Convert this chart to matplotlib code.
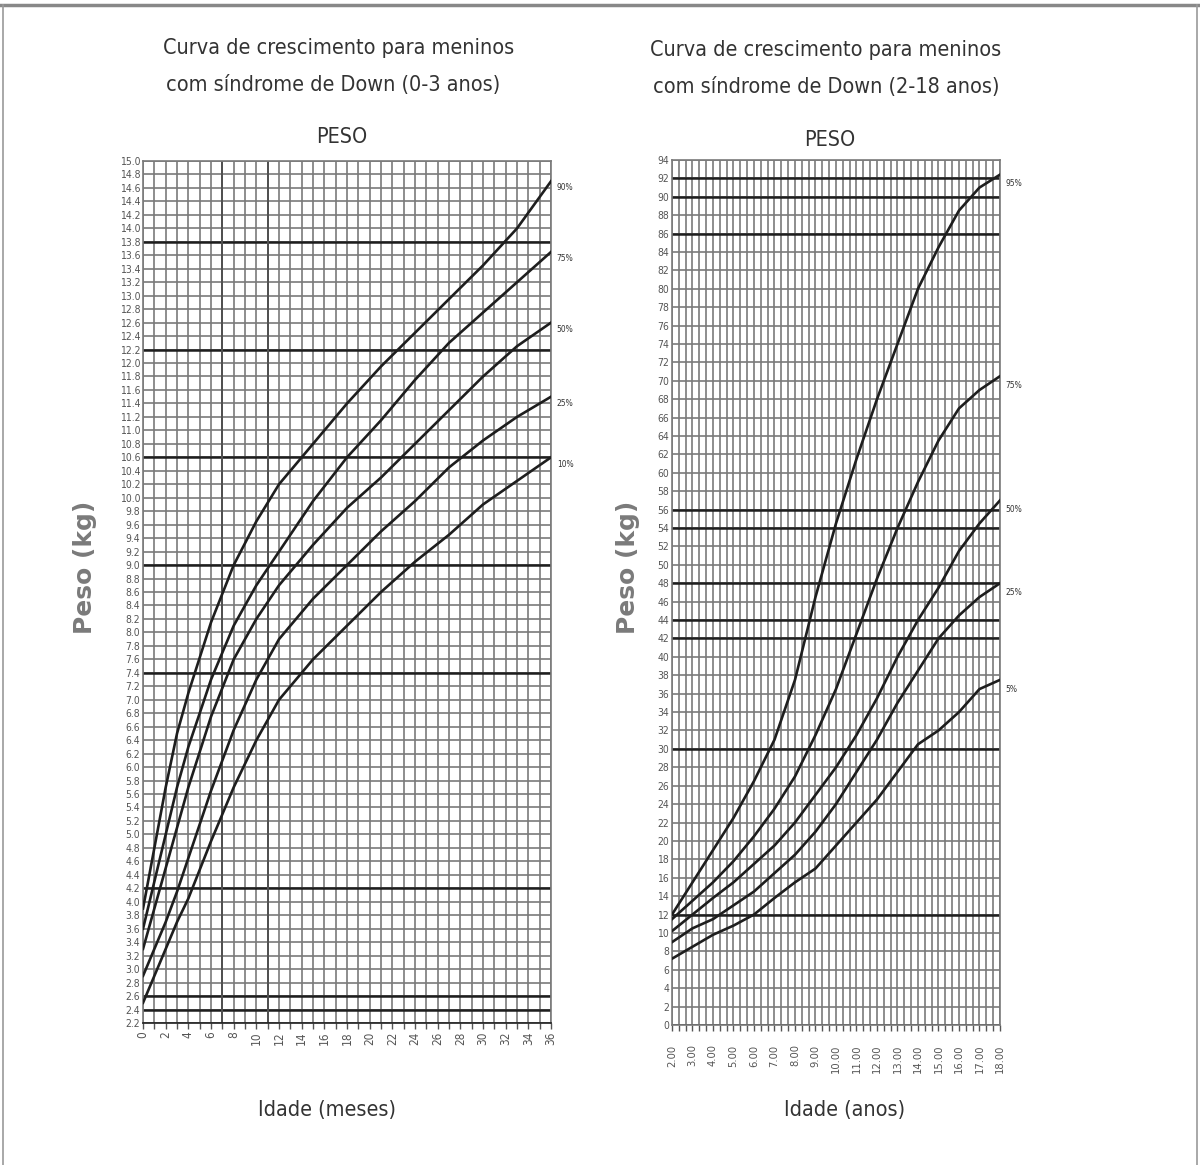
import numpy as np
import matplotlib.pyplot as plt
from matplotlib.lines import Line2D

plt.rcParams['font.family'] = ['DejaVu Sans']
plt.rcParams['font.stretch'] = 'condensed'

# Peso (kg) por idade em meses, 0-3 anos
meses = [0, 1, 2, 3, 4, 6, 8, 10, 12, 15, 18, 21, 24, 27, 30, 33, 36]
p90_meses = [3.9, 4.8, 5.7, 6.5, 7.1, 8.15, 9.0, 9.65, 10.2, 10.8, 11.4, 11.95, 12.45, 12.95, 13.45, 14.0, 14.7]
p75_meses = [3.6, 4.3, 5.0, 5.7, 6.3, 7.3, 8.1, 8.7, 9.2, 9.95, 10.6, 11.15, 11.75, 12.3, 12.75, 13.2, 13.65]
p50_meses = [3.3, 3.9, 4.5, 5.1, 5.7, 6.75, 7.6, 8.2, 8.7, 9.3, 9.85, 10.3, 10.8, 11.3, 11.8, 12.25, 12.6]
p25_meses = [2.9, 3.3, 3.7, 4.15, 4.65, 5.65, 6.55, 7.3, 7.9, 8.5, 9.0, 9.5, 9.95, 10.45, 10.85, 11.2, 11.5]
p10_meses = [2.5, 2.9, 3.3, 3.7, 4.05, 4.9, 5.7, 6.4, 7.0, 7.6, 8.1, 8.6, 9.05, 9.45, 9.9, 10.25, 10.6]
curvas_meses = [('90%', p90_meses), ('75%', p75_meses), ('50%', p50_meses),
                ('25%', p25_meses), ('10%', p10_meses)]

# Peso (kg) por idade em anos, 2-18 anos
anos = [2, 3, 4, 5, 6, 7, 8, 9, 10, 11, 12, 13, 14, 15, 16, 17, 18]
p95_anos = [12.0, 15.5, 19.0, 22.5, 26.5, 31.0, 37.5, 46.5, 54.5, 61.5, 68.0, 74.0, 80.0, 84.5, 88.5, 91.0, 92.4]
p75_anos = [11.5, 13.5, 15.5, 17.8, 20.5, 23.5, 27.0, 31.5, 36.5, 42.5, 48.5, 54.0, 59.0, 63.5, 67.0, 69.0, 70.5]
p50_anos = [10.2, 12.0, 13.8, 15.5, 17.5, 19.5, 22.0, 25.0, 28.0, 31.5, 35.5, 40.0, 44.0, 47.5, 51.5, 54.5, 57.0]
p25_anos = [9.0, 10.5, 11.5, 13.0, 14.5, 16.5, 18.5, 21.0, 24.0, 27.5, 31.0, 35.0, 38.5, 42.0, 44.5, 46.5, 48.0]
p5_anos = [7.2, 8.5, 9.8, 10.8, 12.0, 13.8, 15.5, 17.0, 19.5, 22.0, 24.5, 27.5, 30.5, 32.0, 34.0, 36.5, 37.5]
curvas_anos = [('95%', p95_anos), ('75%', p75_anos), ('50%', p50_anos),
               ('25%', p25_anos), ('5%', p5_anos)]

# linhas de destaque da grade
destaque_meses_y = [2.4, 2.6, 4.2, 7.4, 9.0, 10.6, 12.2, 13.8]
destaque_meses_x = [7, 11]
destaque_anos_y = [0, 12, 30, 42, 44, 48, 54, 56, 86, 90, 92]

GRID = '#7a7a7a'
DARK = '#1e1e1e'
TXT = '#333333'

fig = plt.figure(figsize=(12, 11.65), dpi=100)
ax1 = fig.add_axes([0.1192, 0.1219, 0.34, 0.7399])
ax2 = fig.add_axes([0.56, 0.1202, 0.2733, 0.7425])


def grade(ax):
    ax.grid(True, which='both', color=GRID, lw=1.2)
    ax.set_axisbelow(True)
    for s in ax.spines.values():
        s.set_color(GRID)
        s.set_linewidth(1.2)
    ax.tick_params(which='both', length=4, width=1, color='#555555',
                   labelcolor='#555555', pad=2)
    ax.tick_params(axis='y', length=0)


# ---- 0 a 3 anos ----
ax1.set_xlim(0, 36)
ax1.set_ylim(2.2, 15.0)
yt = np.round(np.arange(2.2, 15.01, 0.2), 1)
ax1.set_yticks(yt)
ax1.set_yticklabels([f'{v:.1f}' for v in yt], fontsize=7.5)
ax1.set_xticks(range(0, 37, 2))
ax1.set_xticks(range(0, 37), minor=True)
ax1.set_xticklabels([str(v) for v in range(0, 37, 2)], fontsize=8.5, rotation=90)
grade(ax1)
for v in destaque_meses_y:
    ax1.axhline(v, color=DARK, lw=1.8, zorder=1.5)
for v in destaque_meses_x:
    ax1.axvline(v, color='#505050', lw=1.4, zorder=1.5)
ax1.spines['bottom'].set_color(DARK)
for nome, serie in curvas_meses:
    ax1.plot(meses, serie, color=DARK, lw=1.9, zorder=3)
    ax1.text(36.5, serie[-1] - 0.1, nome, fontsize=6, color=TXT,
             va='center', ha='left', clip_on=False)

# ---- 2 a 18 anos ----
ax2.set_xlim(2, 18)
ax2.set_ylim(0, 94)
ax2.set_yticks(range(0, 95, 2))
ax2.set_yticklabels([str(v) for v in range(0, 95, 2)], fontsize=7.5)
ax2.set_xticks(range(2, 19))
ax2.set_xticks(np.arange(2, 18.01, 1 / 3), minor=True)
ax2.set_xticklabels([f'{v}.00' for v in range(2, 19)], fontsize=8, rotation=90)
grade(ax2)
ax2.tick_params(axis='x', pad=10)
for v in destaque_anos_y:
    ax2.axhline(v, color=DARK, lw=1.8, zorder=1.5)
for nome, serie in curvas_anos:
    ax2.plot(anos, serie, color=DARK, lw=1.9, zorder=3)
    ax2.text(18.25, serie[-1] - 1.0, nome, fontsize=6, color=TXT,
             va='center', ha='left', clip_on=False)

# títulos e rótulos dos eixos
tit = dict(ha='center', va='center', fontsize=15.5, color=TXT)
fig.text(339 / 1200, 1 - 48 / 1165, 'Curva de crescimento para meninos', **tit)
fig.text(333 / 1200, 1 - 85 / 1165, 'com síndrome de Down (0-3 anos)', **tit)
fig.text(342 / 1200, 1 - 137 / 1165, 'PESO', **tit)
fig.text(826 / 1200, 1 - 50 / 1165, 'Curva de crescimento para meninos', **tit)
fig.text(826 / 1200, 1 - 87 / 1165, 'com síndrome de Down (2-18 anos)', **tit)
fig.text(830 / 1200, 1 - 140 / 1165, 'PESO', **tit)

ylab = dict(ha='center', va='center', rotation=90, fontsize=18,
            fontweight='bold', stretch='normal', color='#7a7a7a')
fig.text(85 / 1200, 1 - 567 / 1165, 'Peso (kg)', **ylab)
fig.text(628 / 1200, 1 - 567 / 1165, 'Peso (kg)', **ylab)

xlab = dict(ha='center', va='center', fontsize=15.5, color=TXT)
fig.text(327 / 1200, 1 - 1110 / 1165, 'Idade (meses)', **xlab)
fig.text(845 / 1200, 1 - 1110 / 1165, 'Idade (anos)', **xlab)

# moldura da página
fig.add_artist(Line2D([0, 1], [1 - 5 / 1165] * 2, color='#888888', lw=2.5))
fig.add_artist(Line2D([3 / 1200] * 2, [0, 1 - 5 / 1165], color='#999999', lw=1.2))
fig.add_artist(Line2D([1197 / 1200] * 2, [0, 1 - 5 / 1165], color='#999999', lw=1.2))

fig.savefig('out.png', dpi=100)
